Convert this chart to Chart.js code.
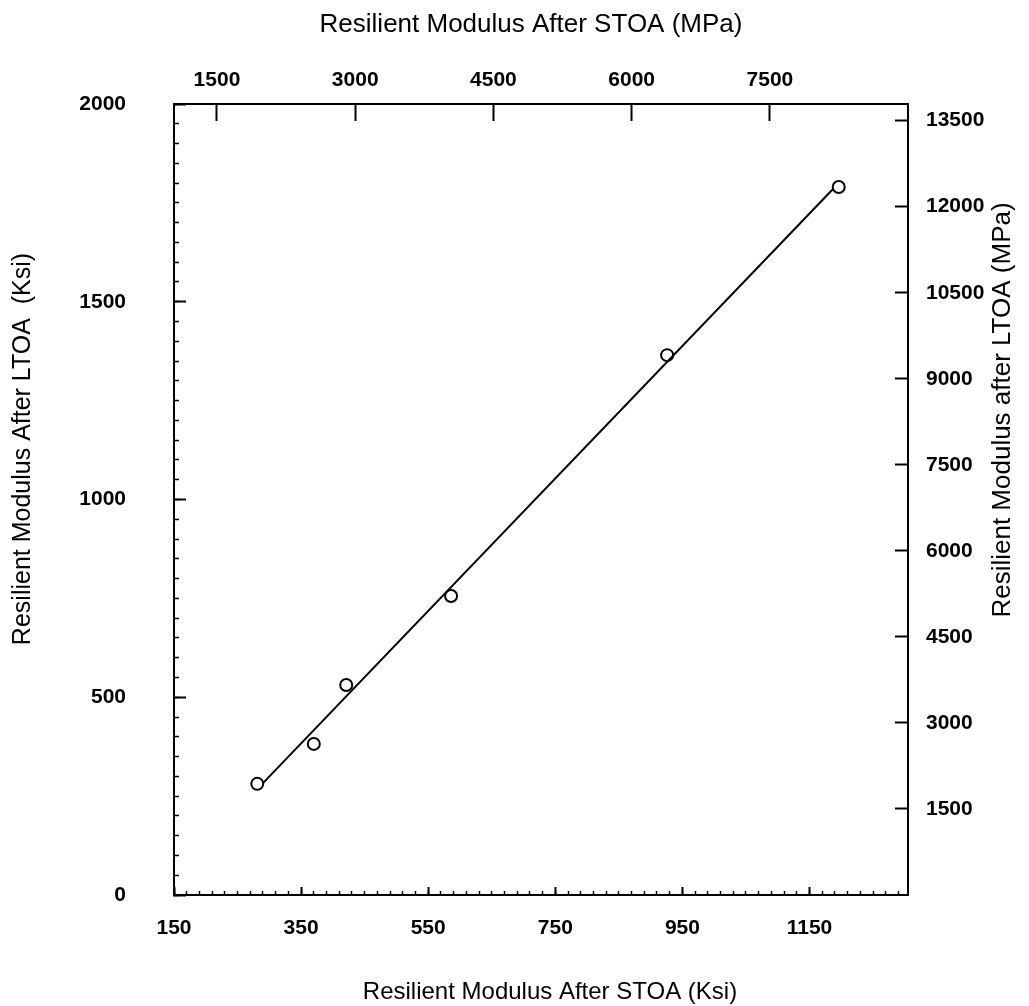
<!DOCTYPE html>
<html>
<head>
<meta charset="utf-8">
<script src="https://cdn.jsdelivr.net/npm/chart.js@4.4.1/dist/chart.umd.min.js"></script>
<style>
  html, body { margin: 0; padding: 0; background: #fff; }
  #wrap { width: 1029px; height: 1006px; }
</style>
</head>
<body>
<div id="wrap"><canvas id="modulusChart"></canvas></div>
<script>
// measured points, Ksi
const stoaKsi = [281, 370, 421, 586, 926, 1196];
const ltoaKsi = [281, 382, 531, 756, 1365, 1790];
// fitted line ends, Ksi
const fitStoaKsi = [290, 1187];
const fitLtoaKsi = [283, 1785];

// tick labels
const ksiXTicks = [150, 350, 550, 750, 950, 1150];
const ksiYTicks = [0, 500, 1000, 1500, 2000];
const mpaXTicks = [1500, 3000, 4500, 6000, 7500];
const mpaYTicks = [1500, 3000, 4500, 6000, 7500, 9000, 10500, 12000, 13500];
const ksiXMinorStep = 20;
const ksiYMinorStep = 50;

const tickFont = { family: "Liberation Sans", size: 21, weight: "bold" };

function fixedTicks(list) {
    return function (scale) {
        scale.ticks = list.map(v => ({ value: v }));
    };
}

function steppedTicks(step) {
    return function (scale) {
        const out = [];
        for (let v = scale.min; v <= scale.max; v += step) out.push({ value: v });
        scale.ticks = out;
    };
}

function majorAxis(pos, min, max, list, size, tickLength, padding) {
    const horizontal = pos === "top" || pos === "bottom";
    return {
        type: "linear",
        position: pos,
        min: min,
        max: max,
        weight: 1,
        afterBuildTicks: fixedTicks(list),
        afterFit: s => { if (horizontal) s.height = size; else s.width = size; },
        grid: { drawOnChartArea: false, tickColor: "#000", tickWidth: 2, tickLength: tickLength },
        border: { display: true, color: "#000", width: 2 },
        ticks: { color: "#000", font: tickFont, padding: padding, maxRotation: 0, callback: v => String(v) }
    };
}

function minorAxis(pos, min, max, step, tickLength) {
    const horizontal = pos === "top" || pos === "bottom";
    return {
        type: "linear",
        position: pos,
        min: min,
        max: max,
        weight: 0,
        afterBuildTicks: steppedTicks(step),
        afterFit: s => { if (horizontal) s.height = 0; else s.width = 0; },
        grid: { drawOnChartArea: false, tickColor: "#000", tickWidth: 1.5, tickLength: tickLength },
        border: { display: false },
        ticks: { display: false }
    };
}

// axis titles drawn by hand so the right one reads bottom-to-top like the original
const axisTitles = {
    id: "axisTitles",
    afterDraw(chart) {
        const ctx = chart.ctx;
        const put = (text, x, y, size, rot) => {
            ctx.save();
            ctx.translate(x, y);
            ctx.rotate(rot);
            ctx.font = size + "px 'Liberation Sans'";
            ctx.fillStyle = "#000";
            ctx.textAlign = "center";
            ctx.textBaseline = "middle";
            ctx.fillText(text, 0, 0);
            ctx.restore();
        };
        put("Resilient Modulus After STOA (MPa)", 531, 25, 26, 0);
        put("Resilient Modulus After STOA (Ksi)", 550, 992, 24, 0);
        put("Resilient Modulus After LTOA  (Ksi)", 23, 449, 25, -Math.PI / 2);
        put("Resilient Modulus after LTOA (MPa)", 1003, 410, 26, -Math.PI / 2);
    }
};

function loadModulusChart() {
    const ctx = document.getElementById("modulusChart");
    if (!ctx) {
        console.error("no #modulusChart");
        return;
    }

    const config = {
        type: "scatter",
        data: {
            datasets: [{
                label: "measured",
                data: stoaKsi.map((x, i) => ({ x: x, y: ltoaKsi[i] })),
                showLine: false,
                pointStyle: "circle",
                pointRadius: 6,
                borderWidth: 2,
                borderColor: "#000",
                backgroundColor: "rgba(0,0,0,0)",
                xAxisID: "x",
                yAxisID: "y"
            }, {
                label: "fit",
                data: fitStoaKsi.map((x, i) => ({ x: x, y: fitLtoaKsi[i] })),
                showLine: true,
                pointRadius: 0,
                borderWidth: 2,
                borderColor: "#000",
                xAxisID: "x",
                yAxisID: "y"
            }]
        },
        options: {
            responsive: true,
            maintainAspectRatio: false,
            animation: false,
            layout: { padding: 0 },
            plugins: {
                legend: { display: false },
                tooltip: { enabled: false }
            },
            scales: {
                x: majorAxis("bottom", 150, 1305, ksiXTicks, 111, -8, 29),
                xMinor: minorAxis("bottom", 150, 1305, ksiXMinorStep, -4),
                x2: majorAxis("top", 1034, 8998, mpaXTicks, 104, -17, 28),
                y: majorAxis("left", 0, 2000, ksiYTicks, 174, -12, 60),
                yMinor: minorAxis("left", 0, 2000, ksiYMinorStep, -5),
                y2: majorAxis("right", 0, 13790, mpaYTicks, 121, -13, 31)
            }
        },
        plugins: [axisTitles]
    };

    new Chart(ctx, config);
}

loadModulusChart();
</script>
</body>
</html>
